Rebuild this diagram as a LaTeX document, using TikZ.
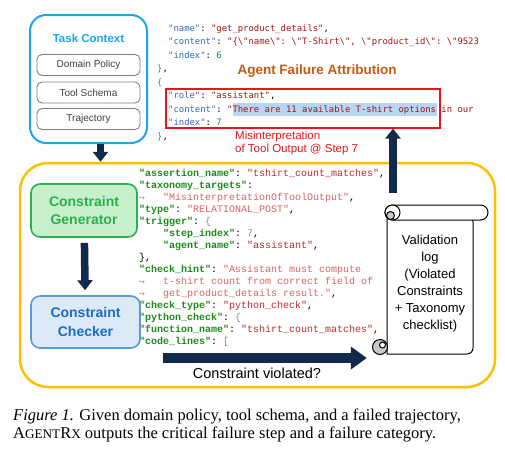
\documentclass[tikz,border=0pt]{standalone}
\usepackage{fontspec}
\setmainfont{Liberation Sans}
\setmonofont{Liberation Mono}
\newfontfamily\jsonfont{DejaVu Sans Mono}
\newfontfamily\symfont{DejaVu Sans}
\newfontfamily\capfont{Liberation Serif}
\usepackage{xcolor}
\usetikzlibrary{arrows.meta, positioning, calc}

\definecolor{tcblue}{HTML}{1BA6EA}
\definecolor{itemgray}{HTML}{7F7F7F}
\definecolor{darktext}{HTML}{404040}
\definecolor{navy}{HTML}{13294B}
\definecolor{gold}{HTML}{FFC000}
\definecolor{attrorange}{HTML}{C55A11}
\definecolor{failred}{HTML}{E5161C}
\definecolor{genfill}{HTML}{C6EFCB}
\definecolor{genline}{HTML}{2EAE4C}
\definecolor{chkfill}{HTML}{DCE9F7}
\definecolor{chkline}{HTML}{5B9BD5}
\definecolor{chktext}{HTML}{1A6EC6}
\definecolor{jkey}{HTML}{2F6AAE}
\definecolor{jstr}{HTML}{A31515}
\definecolor{jnum}{HTML}{098658}
\definecolor{jbrace}{HTML}{3A9A3A}
\definecolor{hlblue}{HTML}{B7D6F4}
\definecolor{ckey}{HTML}{1E8A1E}
\definecolor{cstr}{HTML}{BA2B2B}
\definecolor{cpink}{HTML}{D66464}
\definecolor{cgray}{HTML}{8A8A8A}
\definecolor{scrollgray}{HTML}{C8C8C8}

% json (top) and constraint code (bottom)
\newcommand{\jk}[1]{\textcolor{jkey}{"#1"}}
\newcommand{\js}[1]{\textcolor{jstr}{"#1"}}
\newcommand{\bs}{\textbackslash}
\newcommand{\ck}[1]{\textcolor{ckey}{\bfseries"#1"}}
\newcommand{\cs}[1]{\textcolor{cstr}{"#1"}}
\newcommand{\cp}[1]{\textcolor{cpink}{#1}}
\newcommand{\cg}[1]{\textcolor{cgray}{#1}}
\newcommand{\hook}{\makebox[24pt][l]{\cg{\symfont\fontsize{7}{7}\selectfont ↪}}}

\begin{document}
\begin{tikzpicture}[x=1pt, y=-1pt,
  every node/.style={inner sep=0pt},
  ctxframe/.style={draw=tcblue, line width=2pt, rounded corners=16pt,
    minimum width=117pt, minimum height=128pt},
  ctxitem/.style={draw=itemgray, line width=0.9pt, rounded corners=5pt,
    minimum width=103pt, minimum height=21pt, text=darktext,
    font=\fontsize{10}{12}\selectfont},
  stagebox/.style={line width=1.6pt, rounded corners=9pt, align=center,
    font=\bfseries\fontsize{14}{18.5}\selectfont},
  fatarrow/.style={draw=navy, line width=7.5pt, -{Triangle[width=15pt,length=10pt]}},
  widearrow/.style={draw=navy, line width=10pt, -{Triangle[width=22pt,length=16pt]}},
  jsonline/.style={anchor=base west, font=\jsonfont\fontsize{8.9}{10}\selectfont\frenchspacing},
  codeline/.style={anchor=base west, font=\ttfamily\fontsize{10}{12}\selectfont},
  scrollline/.style={draw=black, line width=1pt},
  captext/.style={anchor=base west, font=\capfont\fontsize{16.5}{14}\selectfont}]

\useasboundingbox (0,0) rectangle (505,461);

% constraint frame
\node[draw=gold, line width=2.5pt, rounded corners=28pt,
  minimum width=475pt, minimum height=224pt] (frame) at (257.5,275) {};

% task context
\node[ctxframe] (task) at (88.5,79) {};
\node[text=tcblue, font=\bfseries\fontsize{11.5}{13}\selectfont] (ttitle) at (88.5,38) {Task Context};
\node[ctxitem] (dom) at (88.5,65) {Domain Policy};
\node[ctxitem] (tool) at (88.5,92.5) {Tool Schema};
\node[ctxitem] (traj) at (88.5,119) {Trajectory};

% trajectory excerpt
\fill[hlblue] (232.5,103) rectangle (436.5,115.5);
\begin{scope}
  \clip (150,0) rectangle (480,150);
  \foreach \dx/\ln [count=\i] in {
    11/{\jk{name}: \js{get\_product\_details},},
    11/{\jk{content}: \textcolor{jstr}{"\{\bs"name\bs": \bs"T-Shirt\bs", \bs"product\_id\bs": \bs"9523}},
    11/{\jk{index}: \textcolor{jnum}{6}},
    0/{\textcolor{jbrace}{\}},},
    0/{\textcolor{jbrace}{\{}},
    11/{\jk{role}: \js{assistant},},
    11/{\jk{content}: \textcolor{jstr}{"There are 11 available T-shirt options in our}},
    11/{\jk{index}: \textcolor{jnum}{7}},
    0/{\textcolor{jbrace}{\}},}}
    \node[jsonline] (json\i) at ({157+\dx},{31+13.5*(\i-1)}) {\ln};
\end{scope}
\node[draw=failred, line width=1.2pt, minimum width=274pt, minimum height=39pt] (fail) at (303,108.5) {};
\node[text=attrorange, font=\bfseries\fontsize{13.5}{15}\selectfont] (attr) at (317,71) {Agent Failure Attribution};
\node[anchor=west, align=left, text=failred, font=\fontsize{11.5}{13}\selectfont] (cause) at (235,143.5)
  {Misinterpretation\\of Tool Output @ Step 7};

% constraint code
\foreach \ln [count=\i] in {
  {\ck{assertion\_name}: \cs{tshirt\_count\_matches},},
  {\ck{taxonomy\_targets}:},
  {\hook\cp{"MisinterpretationOfToolOutput"},},
  {\ck{type}: \cp{"RELATIONAL\_POST"},},
  {\ck{trigger}: \cg{\{}},
  {\hspace*{24pt}\ck{step\_index}: \cg{7},},
  {\hspace*{24pt}\ck{agent\_name}: \cs{assistant},},
  {\},},
  {\ck{check\_hint}: \cp{"Assistant must compute}},
  {\hook\cp{t-shirt count from correct field of}},
  {\hook\cp{get\_product\_details result."},},
  {\ck{check\_type}: \cs{python\_check},},
  {\ck{python\_check}: \cg{\{}},
  {\ck{function\_name}: \cs{tshirt\_count\_matches},},
  {\ck{code\_lines}: \cg{[}}}
  \node[codeline] (code\i) at (139,{176+12*(\i-1)}) {\ln};

% generator and checker
\node[stagebox, draw=genline, fill=genfill, text=genline,
  minimum width=106pt, minimum height=53pt] (gen) at (84,210.5) {Constraint\\Generator};
\node[stagebox, draw=chkline, fill=chkfill, text=chktext,
  minimum width=109pt, minimum height=52pt] (chk) at (85.5,322) {Constraint\\Checker};

% validation log scroll
\draw[scrollline, fill=white] (387,216) -- (387,354)
  {[rounded corners=6pt] -- (473,354) -- (473,216)} -- cycle;
\draw[scrollline, fill=white, rounded corners=7.5pt] (385,205) rectangle (488,220);
\draw[scrollline, fill=white] (392.5,212.5) circle[radius=7.5pt];
\draw[scrollline, fill=scrollgray] (390.5,215.5) circle[radius=4pt];
\draw[scrollline, fill=scrollgray] (380,347) circle[radius=7.5pt];
\draw[scrollline, fill=white] (382.5,345) circle[radius=3pt];
\node[align=center, font=\fontsize{13}{17}\selectfont,
  minimum width=86pt, minimum height=136pt] (log) at (430,284)
  {Validation\\log\\(Violated\\Constraints\\+ Taxonomy\\checklist)};

% arrows
\coordinate (tdrop) at ([xshift=12pt]task.south);
\draw[fatarrow] (tdrop) -- (tdrop |- frame.north);
\draw[fatarrow, shorten <=5pt, shorten >=5pt] (gen) -- (chk);
\coordinate (lograise) at ([xshift=-37pt,yshift=23pt]log.north);
\draw[fatarrow] (lograise) -- (lograise |- fail.south);
\coordinate (vstart) at (163,358);
\draw[widearrow, shorten >=20pt] (vstart) -- (vstart -| log.west);
\node[font=\fontsize{14.5}{16}\selectfont] (vlabel) at (257,373) {Constraint violated?};

% caption
\node[captext] (cap1) at (13,420) {\textit{Figure 1.} Given domain policy, tool schema, and a failed trajectory,};
\node[captext] (cap2) at (13,438) {A{\fontsize{13.2}{14}\selectfont GENT}R{\fontsize{13.2}{14}\selectfont X} outputs the critical failure step and a failure category.};
\end{tikzpicture}
\end{document}
